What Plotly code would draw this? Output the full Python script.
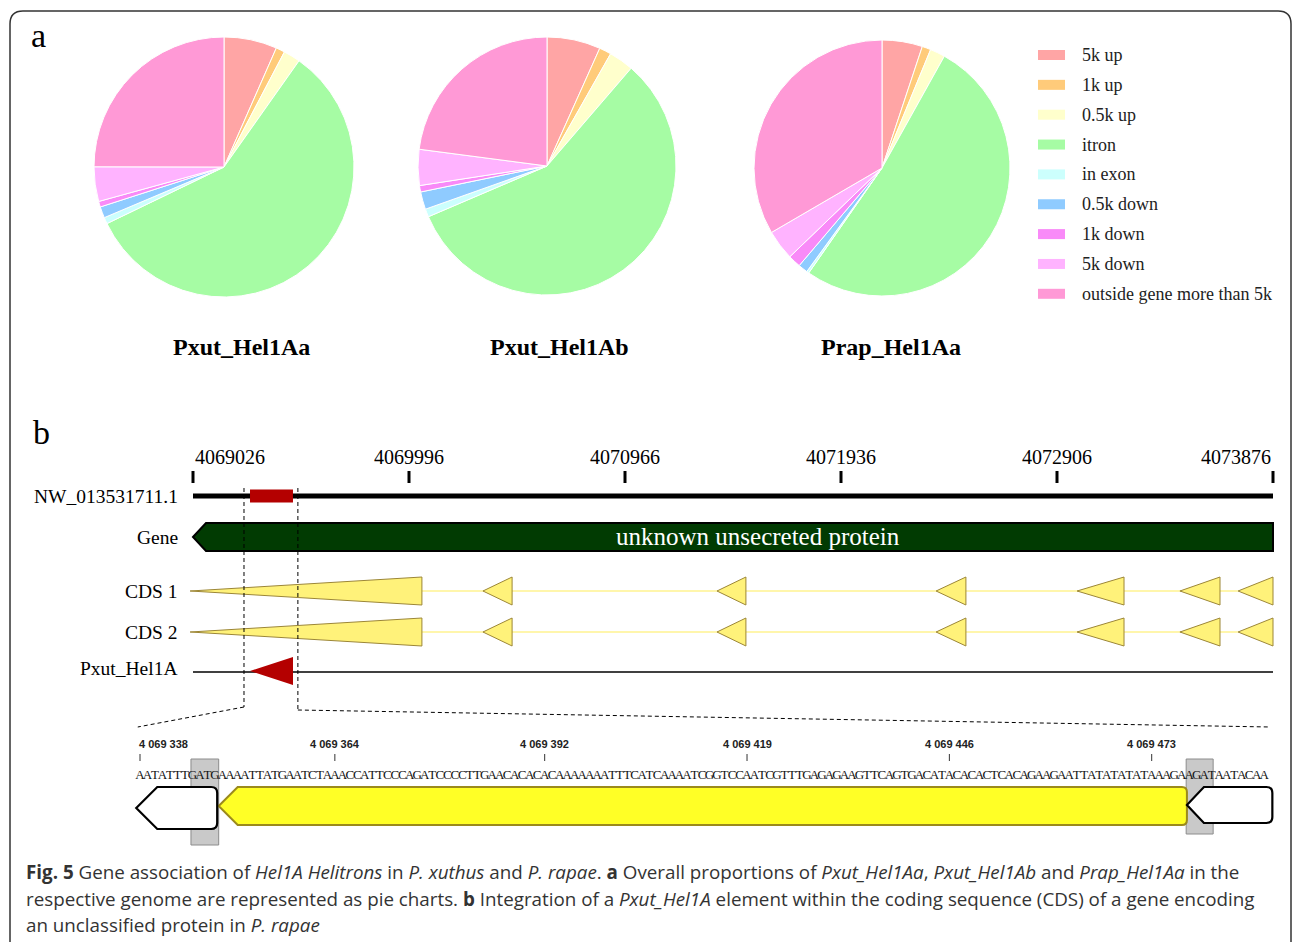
import plotly.graph_objects as go

W, H = 1293, 942
SERIF = "Liberation Serif"

# ---------------- panel a: insertion-site proportions ----------------
categories = ["5k up", "1k up", "0.5k up", "itron", "in exon",
              "0.5k down", "1k down", "5k down", "outside gene more than 5k"]
slice_colors = ["#ffa5a5", "#ffcb7a", "#ffffcc", "#a6fca4", "#ccfffd",
                "#8fcbff", "#f98af8", "#ffb3ff", "#ff99d6"]
pxut_hel1aa = [6.6, 1.1, 2.1, 58.1, 0.8, 1.4, 0.7, 4.3, 25.0]
pxut_hel1ab = [6.7, 1.5, 3.1, 57.2, 1.0, 2.2, 0.8, 4.5, 22.9]
prap_hel1aa = [5.1, 1.1, 1.9, 51.6, 0.3, 1.2, 1.6, 3.8, 33.4]
pie_names = ["Pxut_Hel1Aa", "Pxut_Hel1Ab", "Prap_Hel1Aa"]
pie_values = [pxut_hel1aa, pxut_hel1ab, prap_hel1aa]

# ---------------- panel b: locus on the contig ----------------
axis_ticks = [4069026, 4069996, 4070966, 4071936, 4072906, 4073876]
contig = "NW_013531711.1"
gene_span = (4069026, 4073876)
gene_name = "unknown unsecreted protein"
gene_label_pos = 4071563
cds_tracks = ["CDS 1", "CDS 2"]
cds_exons = [(4069013, 4070054), (4070328, 4070459), (4071379, 4071509),
             (4072363, 4072497), (4072996, 4073207), (4073458, 4073638),
             (4073719, 4073876)]
element_name = "Pxut_Hel1A"
element_span = (4069282, 4069475)
zoom_window = (4069255, 4069497)

# ---------------- panel b: zoomed sequence ----------------
seq_start = 4069338
sequence = ("AATATTTGATGAAAATTATGAATCTAAACCATTCCCAGATCCCCTTGAACACACACAAAAAAA"
            "TTTCATCAAAATCGGTCCAATCGTTTGAGAGAAGTTCAGTGACATACACACTCACAGAAGAAT"
            "TATATATATAAAGAAGATAATACAA")
seq_ticks = [4069338, 4069364, 4069392, 4069419, 4069446, 4069473]
seq_window = (4069337.7, 4069488.8)
tsd_boxes = [(4069344.8, 4069348.5, 845), (4069477.6, 4069481.2, 834)]
element_zoom = (4069348.5, 4069477.7)
flank_left = (4069337.5, 4069348.3)
flank_right = (4069477.7, 4069489.1)

# ---------------- page layout (pixel rows / columns) ----------------
AXIS_PX = (193, 1273)        # pixel columns of the first / last genome tick
SEQ_PX = (140, 1151.7)       # pixel columns of the first / last sequence tick
PIE_GEOM = [(224, 167, 130), (547, 166, 129), (882, 168, 128)]
PIE_TITLE_X = [241, 559, 891]

g_scale = (axis_ticks[-1] - axis_ticks[0]) / (AXIS_PX[1] - AXIS_PX[0])   # bp per px
s_scale = (seq_ticks[-1] - seq_ticks[0]) / (SEQ_PX[1] - SEQ_PX[0])
g_range = [axis_ticks[0] - AXIS_PX[0] * g_scale, axis_ticks[0] + (W - AXIS_PX[0]) * g_scale]
s_range = [seq_ticks[0] - SEQ_PX[0] * s_scale, seq_ticks[0] + (W - SEQ_PX[0]) * s_scale]


def g2px(bp):
    return (bp - g_range[0]) / g_scale


def s2px(bp):
    return (bp - s_range[0]) / s_scale


fig = go.Figure()

# pies
for (cx, cy, r), name, vals in zip(PIE_GEOM, pie_names, pie_values):
    fig.add_trace(go.Pie(
        labels=categories, values=vals, sort=False, direction="clockwise",
        rotation=0, textinfo="none", showlegend=False, name=name,
        marker=dict(colors=slice_colors, line=dict(color="white", width=1)),
        domain=dict(x=[(cx - r) / W, (cx + r) / W],
                    y=[1 - (cy + r) / H, 1 - (cy - r) / H]),
    ))

# sequence letters on the zoom axis
fig.add_trace(go.Scatter(
    x=[seq_start + i for i in range(len(sequence))], y=[776] * len(sequence),
    text=list(sequence), mode="text", xaxis="x2", yaxis="y",
    textfont=dict(family=SERIF, size=13, color="#111"),
    hoverinfo="skip", showlegend=False,
))
# anchor trace for the pixel canvas axis
fig.add_trace(go.Scatter(x=[0], y=[0], xaxis="x3", yaxis="y", mode="markers",
                         marker=dict(opacity=0), hoverinfo="skip", showlegend=False))

shapes = []
ann = []

# outer frame
shapes.append(dict(type="path", xref="x3", yref="y", layer="above",
                   path="M10,945 L10,24 Q10,11 23,11 L1278,11 Q1291,11 1291,24 L1291,945",
                   line=dict(color="#333", width=1.5)))

# panel letters
ann.append(dict(x=29, y=35, xref="x3", yref="y", text="a", showarrow=False, xanchor="left",
                font=dict(family=SERIF, size=34, color="black")))
ann.append(dict(x=31, y=432, xref="x3", yref="y", text="b", showarrow=False, xanchor="left",
                font=dict(family=SERIF, size=34, color="black")))

# pie titles
for tx, name in zip(PIE_TITLE_X, pie_names):
    ann.append(dict(x=tx, y=347, xref="x3", yref="y", text="<b>%s</b>" % name, showarrow=False,
                    font=dict(family=SERIF, size=24, color="black")))

# legend
for i, (cat, col) in enumerate(zip(categories, slice_colors)):
    yy = 55 + i * 29.85
    shapes.append(dict(type="rect", xref="x3", yref="y", x0=1038, x1=1065, y0=yy - 5, y1=yy + 5,
                       fillcolor=col, line=dict(width=0)))
    ann.append(dict(x=1080, y=yy, xref="x3", yref="y", text=cat, showarrow=False, xanchor="left",
                    font=dict(family=SERIF, size=18, color="#222")))

# genome axis ticks and labels
for i, t in enumerate(axis_ticks):
    shapes.append(dict(type="line", xref="x", yref="y", x0=t, x1=t, y0=471, y1=483,
                       line=dict(color="black", width=3)))
    anchor = "left" if i == 0 else ("right" if i == len(axis_ticks) - 1 else "center")
    ann.append(dict(x=t, y=457, xref="x", yref="y", text=str(t), showarrow=False, xanchor=anchor,
                    font=dict(family=SERIF, size=20, color="black")))

# track labels
ROW_NW, ROW_GENE, ROW_CDS, ROW_EL = 496, 537, [591, 632], 671
for label, yy in [(contig, ROW_NW), ("Gene", ROW_GENE), (cds_tracks[0], ROW_CDS[0]),
                  (cds_tracks[1], ROW_CDS[1]), (element_name, ROW_EL - 3)]:
    ann.append(dict(x=180, y=yy, xref="x3", yref="y", text=label, showarrow=False, xanchor="right",
                    font=dict(family=SERIF, size=19.5, color="black")))

# contig line with element position
shapes.append(dict(type="line", xref="x", yref="y", x0=gene_span[0], x1=gene_span[1],
                   y0=ROW_NW, y1=ROW_NW, line=dict(color="black", width=5)))
shapes.append(dict(type="rect", xref="x", yref="y", x0=element_span[0], x1=element_span[1],
                   y0=ROW_NW - 6.5, y1=ROW_NW + 6.5, fillcolor="#b40000", line=dict(width=0)))

# gene arrow
head = 13 * g_scale
g0, g1 = gene_span
shapes.append(dict(type="path", xref="x", yref="y",
                   path="M%f,%f L%f,%f L%f,%f L%f,%f L%f,%f Z" % (
                       g0, ROW_GENE, g0 + head, ROW_GENE - 14, g1, ROW_GENE - 14,
                       g1, ROW_GENE + 14, g0 + head, ROW_GENE + 14),
                   fillcolor="#013b02", line=dict(color="black", width=2)))
ann.append(dict(x=gene_label_pos, y=ROW_GENE - 1, xref="x", yref="y", text=gene_name,
                showarrow=False, font=dict(family=SERIF, size=25, color="white")))

# CDS tracks
for yy in ROW_CDS:
    shapes.append(dict(type="line", xref="x", yref="y", x0=cds_exons[0][1], x1=cds_exons[-1][0],
                       y0=yy, y1=yy, line=dict(color="#fff391", width=1.5)))
    for a, b in cds_exons:
        shapes.append(dict(type="path", xref="x", yref="y",
                           path="M%f,%f L%f,%f L%f,%f Z" % (a, yy, b, yy - 14, b, yy + 14),
                           fillcolor="#fff27a", line=dict(color="#9c8637", width=1)))

# element track
shapes.append(dict(type="line", xref="x", yref="y", x0=gene_span[0], x1=gene_span[1],
                   y0=ROW_EL + 1, y1=ROW_EL + 1, line=dict(color="black", width=1.3)))
shapes.append(dict(type="path", xref="x", yref="y",
                   path="M%f,%f L%f,%f L%f,%f Z" % (element_span[0], ROW_EL, element_span[1], ROW_EL - 14,
                                                    element_span[1], ROW_EL + 14),
                   fillcolor="#b40000", line=dict(width=0)))

# zoom window guides
shapes.append(dict(type="line", xref="x", yref="y", x0=zoom_window[0], x1=zoom_window[0], y0=488, y1=707,
                   line=dict(color="black", width=1, dash="4px,3px")))
shapes.append(dict(type="line", xref="x", yref="y", x0=zoom_window[1], x1=zoom_window[1], y0=488, y1=710,
                   line=dict(color="black", width=1, dash="4px,3px")))
shapes.append(dict(type="line", xref="x3", yref="y", x0=g2px(zoom_window[0]), x1=s2px(seq_window[0]),
                   y0=707, y1=727, line=dict(color="black", width=1, dash="4px,3px")))
shapes.append(dict(type="line", xref="x3", yref="y", x0=g2px(zoom_window[1]), x1=s2px(seq_window[1]),
                   y0=710, y1=727, line=dict(color="black", width=1, dash="4px,3px")))

# sequence ticks
for i, t in enumerate(seq_ticks):
    shapes.append(dict(type="line", xref="x2", yref="y", x0=t, x1=t, y0=754, y1=761,
                       line=dict(color="#333", width=1)))
    ann.append(dict(x=t, y=744, xref="x2", yref="y", text="<b>%s</b>" % "{:,}".format(t).replace(",", " "),
                    showarrow=False, xanchor="left" if i == 0 else "center", xshift=-3 if i == 0 else 0,
                    font=dict(family="Liberation Sans", size=11, color="#222")))

# flanking duplications
for a, b, ybot in tsd_boxes:
    shapes.append(dict(type="rect", xref="x2", yref="y", x0=a, x1=b, y0=759, y1=ybot, layer="below",
                       fillcolor="#c9c9c9", line=dict(color="#8c8c8c", width=1)))

# element (yellow) and flanking CDS pieces (white), all pointing left
def left_arrow(a, b, top, bot, head_px, rad_px):
    hd = head_px * s_scale
    rr = rad_px * s_scale
    mid = (top + bot) / 2
    return ("M%f,%f L%f,%f L%f,%f Q%f,%f %f,%f L%f,%f Q%f,%f %f,%f L%f,%f Z" % (
        a, mid, a + hd, top, b - rr, top, b, top, b, top + rad_px,
        b, bot - rad_px, b, bot, b - rr, bot, a + hd, bot))


shapes.append(dict(type="path", xref="x2", yref="y", layer="below",
                   path=left_arrow(element_zoom[0], element_zoom[1], 787, 825, 19, 5),
                   fillcolor="#ffff26", line=dict(color="#9b8a1c", width=2)))
shapes.append(dict(type="path", xref="x2", yref="y", layer="below",
                   path=left_arrow(flank_left[0], flank_left[1], 787, 829, 21, 6),
                   fillcolor="white", line=dict(color="black", width=2.2)))
shapes.append(dict(type="path", xref="x2", yref="y", layer="below",
                   path=left_arrow(flank_right[0], flank_right[1], 787, 823, 17, 6),
                   fillcolor="white", line=dict(color="black", width=2.2)))

# caption
caption = [
    "<b>Fig. 5</b> Gene association of <i>Hel1A Helitrons</i> in <i>P. xuthus</i> and <i>P. rapae</i>. "
    "<b>a</b> Overall proportions of <i>Pxut_Hel1Aa</i>, <i>Pxut_Hel1Ab</i> and <i>Prap_Hel1Aa</i> in the",
    "respective genome are represented as pie charts. <b>b</b> Integration of a <i>Pxut_Hel1A</i> "
    "element within the coding sequence (CDS) of a gene encoding",
    "an unclassified protein in <i>P. rapae</i>",
]
for i, line in enumerate(caption):
    ann.append(dict(x=24, y=872 + i * 26.5, xref="x3", yref="y", text=line, showarrow=False,
                    xanchor="left", font=dict(family="Open Sans", size=18.8, color="#333")))

hidden = dict(visible=False, fixedrange=True, showgrid=False, zeroline=False)
fig.update_layout(
    width=W, height=H, margin=dict(l=0, r=0, t=0, b=0),
    paper_bgcolor="white", plot_bgcolor="rgba(0,0,0,0)",
    xaxis=dict(range=g_range, domain=[0, 1], anchor="y", **hidden),
    xaxis2=dict(range=s_range, domain=[0, 1], anchor="y", overlaying="x", **hidden),
    xaxis3=dict(range=[0, W], domain=[0, 1], anchor="y", overlaying="x", **hidden),
    yaxis=dict(range=[H, 0], domain=[0, 1], **hidden),
    shapes=shapes, annotations=ann, showlegend=False,
)

fig.write_html("out.html")
